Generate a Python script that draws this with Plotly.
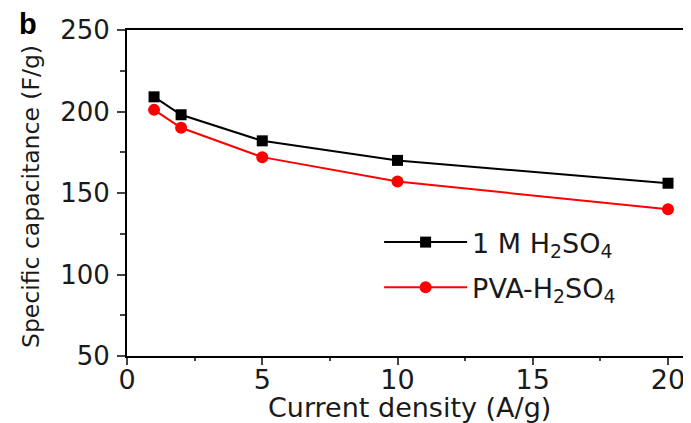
import plotly.graph_objects as go

current_density = [1, 2, 5, 10, 20]
cap_h2so4 = [209, 198, 182, 170, 156]
cap_pva = [201, 190, 172, 157, 140]
x_ticks = [0, 5, 10, 15, 20]
y_ticks = [50, 100, 150, 200, 250]

FONT = "DejaVu Sans, Liberation Sans, Arial, sans-serif"

# the page body has an 8px margin, so the figure is sized to fill the rest
fig = go.Figure()
fig.add_trace(go.Scatter(
    x=current_density, y=cap_h2so4, mode="lines+markers",
    name="1 M H<sub>2</sub>SO<sub>4</sub>", legendgroup="a",
    line=dict(color="black", width=2),
    marker=dict(symbol="square", size=11, color="black"),
))
fig.add_trace(go.Scatter(
    x=current_density, y=cap_pva, mode="lines+markers",
    name="PVA-H<sub>2</sub>SO<sub>4</sub>", legendgroup="b",
    line=dict(color="#ff0000", width=2),
    marker=dict(symbol="circle", size=12, color="#ff0000"),
))

fig.update_layout(
    width=683, height=415,
    margin=dict(l=119, r=0, t=22, b=67),
    paper_bgcolor="white", plot_bgcolor="white",
    font=dict(family=FONT, color="#1a1a1a", size=22),
    showlegend=True,
    legend=dict(x=0.447, y=0.279, xanchor="left", yanchor="middle",
                bgcolor="rgba(0,0,0,0)", font=dict(size=27, family=FONT),
                tracegroupgap=7, itemwidth=83, traceorder="grouped"),
    annotations=[
        dict(text="<b>b</b>", x=-0.1755, y=1.019, xref="paper", yref="paper",
             xanchor="center", yanchor="middle", showarrow=False,
             font=dict(size=29, family="Liberation Sans, Arial, sans-serif", color="black")),
        dict(text="Specific capacitance (F/g)", textangle=-90,
             x=-0.17, y=0.488, xref="paper", yref="paper",
             xanchor="center", yanchor="middle", showarrow=False,
             font=dict(size=23.5, family=FONT, color="#1a1a1a")),
        dict(text="Current density (A/g)",
             x=0.5, y=-0.158, xref="paper", yref="paper",
             xanchor="center", yanchor="middle", showarrow=False,
             font=dict(size=27, family=FONT, color="#1a1a1a")),
    ],
)
fig.update_xaxes(
    range=[0, 20.85], tickvals=x_ticks, ticks="outside", ticklen=7, tickwidth=1.5,
    showline=True, linecolor="black", linewidth=1.8, mirror=True, showgrid=False,
    zeroline=False, tickfont=dict(size=27), automargin=False, ticklabelstandoff=-8,
    minor=dict(tickvals=[2.5, 7.5, 12.5, 17.5], ticks="outside", ticklen=3, tickwidth=1.5),
)
fig.update_yaxes(
    range=[50, 250], tickvals=y_ticks, ticks="outside", ticklen=8, tickwidth=1.5,
    showline=True, linecolor="black", linewidth=1.8, mirror=False, showgrid=False,
    zeroline=False, tickfont=dict(size=26), automargin=False, ticklabelstandoff=2,
    minor=dict(tickvals=[75, 125, 175, 225], ticks="outside", ticklen=5, tickwidth=1.5),
)

fig.write_html("out.html")
